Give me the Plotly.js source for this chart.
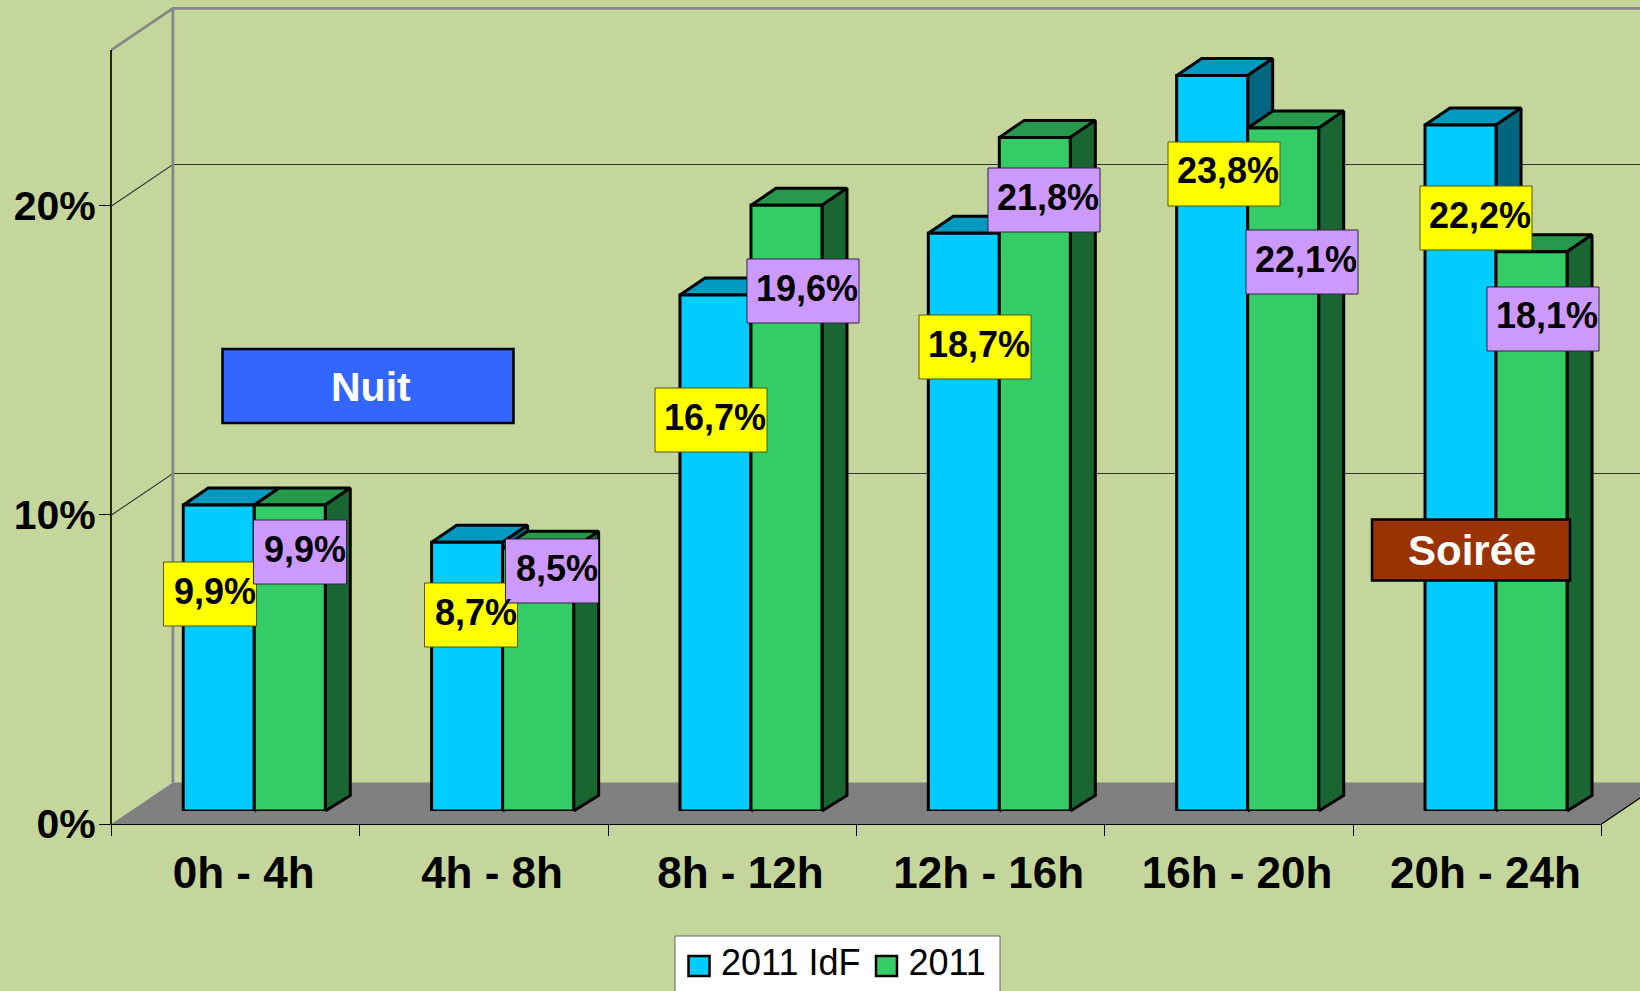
<!DOCTYPE html>
<html>
<head>
<meta charset="utf-8">
<script src="https://cdn.plot.ly/plotly-3.0.1.min.js"></script>
<style>html,body{margin:0;padding:0;background:#C4D69C;overflow:hidden}#chart{width:1640px;height:991px}</style>
</head>
<body>
<div id="chart"></div>
<script>
// ---- data ----
const categories = ['0h - 4h', '4h - 8h', '8h - 12h', '12h - 16h', '16h - 20h', '20h - 24h'];
const seriesIdf = [9.9, 8.7, 16.7, 18.7, 23.8, 22.2];
const series2011 = [9.9, 8.5, 19.6, 21.8, 22.1, 18.1];
const seriesNames = ['2011 IdF', '2011'];
const gridValues = [10, 20];
const yTicks = [0, 10, 20];

// ---- geometry of the pseudo-3D box (pixels) ----
const W = 1640, H = 991;
const X0 = 111.5, CAT = 248.35, Y0 = 824, PCT = 30.9, YMAX = 25.05;
const WALL_DX = 61.4, WALL_DY = 41.5;          // depth of the whole box
const BAR_DX = 18.6, BAR_DY = 13;              // front plane of the bars
const SIDE_DX = 25, SIDE_DY = 17;              // depth of one bar
const BAR_W = 71 / CAT;                        // one bar, in category units
const BG = '#C4D69C', WALL = '#868686', INK = '#000';
const C_IDF = {front: '#00CCFF', top: '#0099BF', side: '#006680'};
const C_2011 = {front: '#33CC66', top: '#26994D', side: '#1A6633'};

// projected scene coordinates (category units, percent units)
const sx = (i, dpx) => i + dpx / CAT;
const sy = (v, dpx) => v + dpx / PCT;
const axisLeft = -0.5;

function topFace(vals, s) {
  const x = [], y = [];
  vals.forEach((v, i) => {
    const l = i + s * BAR_W, r = l + BAR_W;
    x.push(sx(l, BAR_DX), sx(r, BAR_DX), sx(r, BAR_DX + SIDE_DX), sx(l, BAR_DX + SIDE_DX), sx(l, BAR_DX), null);
    y.push(sy(v, BAR_DY), sy(v, BAR_DY), sy(v, BAR_DY + SIDE_DY), sy(v, BAR_DY + SIDE_DY), sy(v, BAR_DY), null);
  });
  return {x, y};
}
function sideFace(vals, s) {
  const x = [], y = [];
  vals.forEach((v, i) => {
    const r = i + (s + 1) * BAR_W;
    x.push(sx(r, BAR_DX), sx(r, BAR_DX + SIDE_DX), sx(r, BAR_DX + SIDE_DX), sx(r, BAR_DX), sx(r, BAR_DX), null);
    y.push(sy(0, BAR_DY), sy(0, BAR_DY + SIDE_DY - 1.5), sy(v, BAR_DY + SIDE_DY), sy(v, BAR_DY), sy(0, BAR_DY), null);
  });
  return {x, y};
}
const faceTrace = (f, color) => ({
  type: 'scatter', mode: 'lines', x: f.x, y: f.y, xaxis: 'x', yaxis: 'y', fill: 'toself', fillcolor: color,
  line: {color: INK, width: 3}, showlegend: false, hoverinfo: 'skip'
});
const lineTrace = (x, y, color, width) => ({
  type: 'scatter', mode: 'lines', x, y, xaxis: 'x', yaxis: 'y',
  line: {color, width}, showlegend: false, hoverinfo: 'skip'
});

const n = categories.length;
const backL = sx(axisLeft, WALL_DX), backR = sx(axisLeft + n, WALL_DX);
const frontL = axisLeft, frontR = axisLeft + n;
const backY = v => sy(v, WALL_DY);

const traces = [];
// floor
traces.push({type: 'scatter', mode: 'lines', x: [frontL, frontR, backR, backL, frontL],
  y: [0, 0, backY(0), backY(0), 0], xaxis: 'x', yaxis: 'y', fill: 'toself', fillcolor: '#808080',
  line: {width: 0, color: '#808080'}, showlegend: false, hoverinfo: 'skip'});
traces.push(lineTrace([frontR, backR], [0, backY(0)], INK, 1.2));
// walls
gridValues.forEach(v => {
  traces.push(lineTrace([frontL, backL, backR], [v, backY(v), backY(v)], '#333', 1.1));
});
traces.push(lineTrace([frontL, backL, backR], [YMAX, backY(YMAX), backY(YMAX)], WALL, 2.8));
traces.push(lineTrace([backL, backL], [backY(0), backY(YMAX)], WALL, 2.8));
// bar depth faces
traces.push(faceTrace(topFace(seriesIdf, -1), C_IDF.top));
traces.push(faceTrace(sideFace(seriesIdf, -1), C_IDF.side));
traces.push(faceTrace(topFace(series2011, 0), C_2011.top));
traces.push(faceTrace(sideFace(series2011, 0), C_2011.side));
// bar fronts
[[seriesIdf, C_IDF], [series2011, C_2011]].forEach(([vals, c], k) => {
  traces.push({type: 'bar', name: seriesNames[k], x: categories, y: vals, xaxis: 'x2', yaxis: 'y2',
    marker: {color: c.front, line: {color: INK, width: 3}}, showlegend: false, hoverinfo: 'skip'});
});
// front axes carrier + legend entries
traces.push({type: 'scatter', mode: 'markers', x: categories, y: seriesIdf, xaxis: 'x3', yaxis: 'y3',
  marker: {opacity: 0, size: 1}, showlegend: false, hoverinfo: 'skip'});
[C_IDF, C_2011].forEach((c, k) => {
  traces.push({type: 'scatter', mode: 'markers', name: seriesNames[k], x: [categories[0]], y: [-100], xaxis: 'x3', yaxis: 'y3',
    marker: {symbol: 'square', size: 6, color: c.front, line: {color: c.front, width: 0}}, hoverinfo: 'skip'});
});

// ---- annotations and boxes ----
const px = x => x / W, py = y => 1 - y / H;
const pct = v => v.toFixed(1).replace('.', ',') + '%';
const labelFont = {family: 'Liberation Sans', size: 36, color: '#000', weight: 700};
const idfLabelPos = [[210, 594], [471, 615], [711, 420], [975, 347], [1224, 174], [1476, 218]];
const g11LabelPos = [[300, 552], [552, 571], [803, 291], [1044, 200], [1302, 262], [1543, 319]];
const labelW = [93, 93, 112, 112, 112, 112];
const LABEL_H = 64;
const annotations = [], shapes = [];
const rect = (cx, cy, w, h, fill, line, lw) => ({
  type: 'rect', xref: 'paper', yref: 'paper', layer: 'above',
  x0: px(cx - w / 2), x1: px(cx + w / 2), y0: py(cy + h / 2), y1: py(cy - h / 2),
  fillcolor: fill, line: {color: line, width: lw}
});
const label = (text, x, y, anchor, font) => ({
  xref: 'paper', yref: 'paper', x: px(x), y: py(y), xanchor: anchor, yanchor: 'middle', showarrow: false,
  text, font, borderpad: 0
});
[[seriesIdf, idfLabelPos, '#FFFF00', '#55551a'], [series2011, g11LabelPos, '#CC99FF', '#332244']].forEach(([vals, pos, fill, line]) => {
  vals.forEach((v, i) => {
    shapes.push(rect(pos[i][0], pos[i][1], labelW[i], LABEL_H, fill, line, 1));
    annotations.push(label(pct(v), pos[i][0] + labelW[i] / 2, pos[i][1] - 3, 'right', labelFont));
  });
});
const nuitFont = {family: 'Liberation Sans', size: 41, color: '#fff', weight: 700};
const soirFont = {family: 'Liberation Sans', size: 42, color: '#fff', weight: 700};
shapes.push(rect(368, 386, 291, 74, '#3366FF', INK, 2.5));
annotations.push(label('Nuit', 371, 387, 'center', nuitFont));
shapes.push(rect(1471, 550, 198, 61, '#993300', INK, 2.5));
annotations.push(label('Soirée', 1472, 550, 'center', soirFont));
// legend frame and swatch frames sit under the legend's own text and markers
shapes.push({type: 'rect', xref: 'paper', yref: 'paper', layer: 'above', x0: px(675), x1: px(1000), y0: py(1000), y1: py(936),
  fillcolor: '#fff', line: {color: '#666', width: 1}});
[[699, C_IDF], [886.5, C_2011]].forEach(([cx, c]) => {
  shapes.push(rect(cx, 966, 21, 20, c.front, INK, 2.5));
});

// ---- layout ----
const noAxis = {visible: false, fixedrange: true};
const catRange = [-0.5, n - 0.5];
const xTickFont = {family: 'Liberation Sans', size: 44, color: '#000', weight: 700};
const yTickFont = {family: 'Liberation Sans', size: 41, color: '#000', weight: 700};
const layout = {
  width: W, height: H, autosize: false,
  margin: {l: 0, r: 0, t: 0, b: 0, pad: 0, autoexpand: false},
  paper_bgcolor: BG, plot_bgcolor: 'rgba(0,0,0,0)',
  hovermode: false, barmode: 'group', bargap: 1 - 2 * BAR_W, bargroupgap: 0,
  // scene: whole page, walls, floor, bar depth
  xaxis: Object.assign({domain: [0, 1], anchor: 'y', range: [axisLeft - X0 / CAT, axisLeft + (W - X0) / CAT]}, noAxis),
  yaxis: Object.assign({domain: [0, 1], anchor: 'x', range: [-(H - Y0) / PCT, Y0 / PCT]}, noAxis),
  // bar front plane
  xaxis2: Object.assign({domain: [(X0 + BAR_DX) / W, Math.min(1, (X0 + BAR_DX + n * CAT) / W)], anchor: 'y2', type: 'category',
    categoryorder: 'array', categoryarray: categories, range: [-0.5, -0.5 + Math.min(n, (W - X0 - BAR_DX) / CAT)]}, noAxis),
  yaxis2: Object.assign({domain: [(H - Y0 + BAR_DY) / H, (H - Y0 + BAR_DY + YMAX * PCT) / H], anchor: 'x2', range: [0, YMAX]}, noAxis),
  // front axes
  xaxis3: {domain: [X0 / W, (X0 + n * CAT) / W], anchor: 'y3', type: 'category', categoryorder: 'array', categoryarray: categories,
    range: catRange, tickson: 'boundaries', ticks: 'outside', ticklen: 11, tickwidth: 1, tickcolor: INK,
    ticklabelshift: 8, ticklabelstandoff: 10,
    showline: true, linecolor: INK, linewidth: 1.2, showgrid: false, zeroline: false, tickfont: xTickFont, fixedrange: true, tickangle: 0},
  yaxis3: {domain: [(H - Y0) / H, (H - Y0 + YMAX * PCT) / H], anchor: 'x3', range: [0, YMAX], tickmode: 'array', tickvals: yTicks,
    ticktext: yTicks.map(v => v + '%'), ticks: 'outside', ticklen: 11, tickwidth: 1, tickcolor: INK, ticklabelstandoff: -5,
    showline: true, linecolor: '#222', linewidth: 1.5, showgrid: false, zeroline: false, tickfont: yTickFont, fixedrange: true},
  legend: {orientation: 'h', x: 678 / W, xanchor: 'left', y: py(931), yanchor: 'top', bgcolor: 'rgba(0,0,0,0)', borderwidth: 0, itemwidth: 33,
    font: {family: 'Liberation Sans', size: 36, color: '#000'}, itemsizing: 'trace', itemclick: false, itemdoubleclick: false},
  annotations, shapes
};
Plotly.newPlot('chart', traces, layout, {displayModeBar: false, staticPlot: true});
</script>
</body>
</html>
